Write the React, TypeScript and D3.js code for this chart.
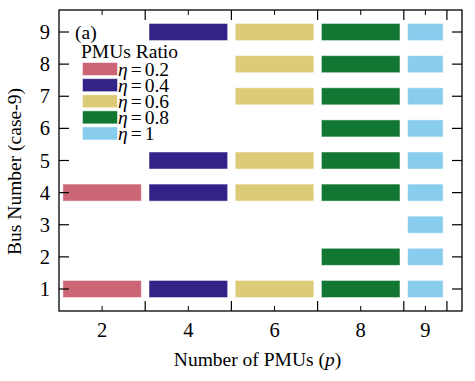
import React from "react"
import * as d3 from "d3"

// Data
const pmuLabels = ["2", "4", "6", "8", "9"]
const binEdges = [1, 3, 5, 7, 9, 10]
const ratioLabels = ["0.2", "0.4", "0.6", "0.8", "1"]
const busSets = [
  [1, 4],
  [1, 4, 5, 9],
  [1, 4, 5, 7, 8, 9],
  [1, 2, 4, 5, 6, 7, 8, 9],
  [1, 2, 3, 4, 5, 6, 7, 8, 9]
]
const busTicks = [1, 2, 3, 4, 5, 6, 7, 8, 9]
const colors = ["#CC6677", "#332288", "#DDCC77", "#117733", "#88CCEE"]

const App = () => {
  // Dimensions
  const totalW = 475
  const totalH = 381
  const margin = { top: 10, bottom: 70, left: 59, right: 13 }
  const w = totalW - margin.left - margin.right
  const h = totalH - margin.top - margin.bottom
  const font = "'Liberation Serif', 'Times New Roman', serif"
  const fs = 19.5
  const tickFs = 20.5

  // Scales
  const xScale = d3.scaleLinear().domain([1, 10.35]).range([0, w])
  const yScale = d3.scaleLinear().domain([0.315, 9.685]).range([h, 0])
  const barH = yScale(0) - yScale(0.5)
  const pad = 0.1

  const centers = pmuLabels.map((_, i) => (binEdges[i] + binEdges[i + 1]) / 2)
  const majors = binEdges.slice(1)

  return (
    <svg
      width={totalW}
      height={totalH}
      style={{ position: "absolute", left: 0, top: 0, background: "white" }}
      fontFamily={font}
    >
      <g transform={`translate(${margin.left}, ${margin.top})`}>
        {busSets.map((buses, gi) =>
          buses.map(b => (
            <rect
              key={`${gi}-${b}`}
              x={xScale(binEdges[gi] + pad)}
              y={yScale(b) - barH / 2}
              width={xScale(binEdges[gi + 1] - pad) - xScale(binEdges[gi] + pad)}
              height={barH}
              fill={colors[gi]}
              stroke={colors[gi]}
              strokeOpacity={0.5}
              strokeWidth={1}
            />
          ))
        )}

        {/* frame */}
        <rect x={0} y={0} width={w} height={h} fill="none" stroke="black" strokeWidth={1.3} />

        {/* x ticks */}
        {majors.map(v => (
          <g key={`xM${v}`}>
            <line x1={xScale(v)} x2={xScale(v)} y1={h} y2={h - 10} stroke="black" strokeWidth={1.2} />
            <line x1={xScale(v)} x2={xScale(v)} y1={0} y2={10} stroke="black" strokeWidth={1.2} />
          </g>
        ))}
        {centers.map((v, i) => (
          <g key={`xm${i}`}>
            <line x1={xScale(v)} x2={xScale(v)} y1={h} y2={h - 5} stroke="black" strokeWidth={1} />
            <line x1={xScale(v)} x2={xScale(v)} y1={0} y2={5} stroke="black" strokeWidth={1} />
            <text x={xScale(v)} y={h + 25.5} fontSize={tickFs} textAnchor="middle">
              {pmuLabels[i]}
            </text>
          </g>
        ))}

        {/* y ticks */}
        {busTicks.map(b => (
          <g key={`y${b}`}>
            <line x1={0} x2={10} y1={yScale(b)} y2={yScale(b)} stroke="black" strokeWidth={1.2} />
            <line x1={w} x2={w - 10} y1={yScale(b)} y2={yScale(b)} stroke="black" strokeWidth={1.2} />
            <text x={-9} y={yScale(b) + 7} fontSize={tickFs} textAnchor="end">
              {b}
            </text>
          </g>
        ))}

        {/* axis labels */}
        <text x={w / 2 - 3} y={h + 55} fontSize={fs} textAnchor="middle">
          Number of PMUs (<tspan fontStyle="italic">p</tspan>)
        </text>
        <text
          transform={`translate(${-38}, ${h / 2 + 11}) rotate(-90)`}
          fontSize={fs}
          textAnchor="middle"
        >
          Bus Number (case-9)
        </text>

        {/* legend */}
        <text x={16} y={29} fontSize={fs}>(a)</text>
        <text x={22} y={48} fontSize={fs}>PMUs Ratio</text>
        {ratioLabels.map((r, i) => (
          <g key={`leg${i}`} transform={`translate(24, ${59 + i * 16.1})`}>
            <rect x={0} y={-6} width={34} height={12} fill={colors[i]} stroke={colors[i]} strokeOpacity={0.5} />
            <text x={35} y={6.5} fontSize={fs}>
              <tspan fontStyle="italic">η</tspan>
              <tspan dx={3}>=</tspan>
              <tspan dx={3}>{r}</tspan>
            </text>
          </g>
        ))}
      </g>
    </svg>
  )
}

export default App
